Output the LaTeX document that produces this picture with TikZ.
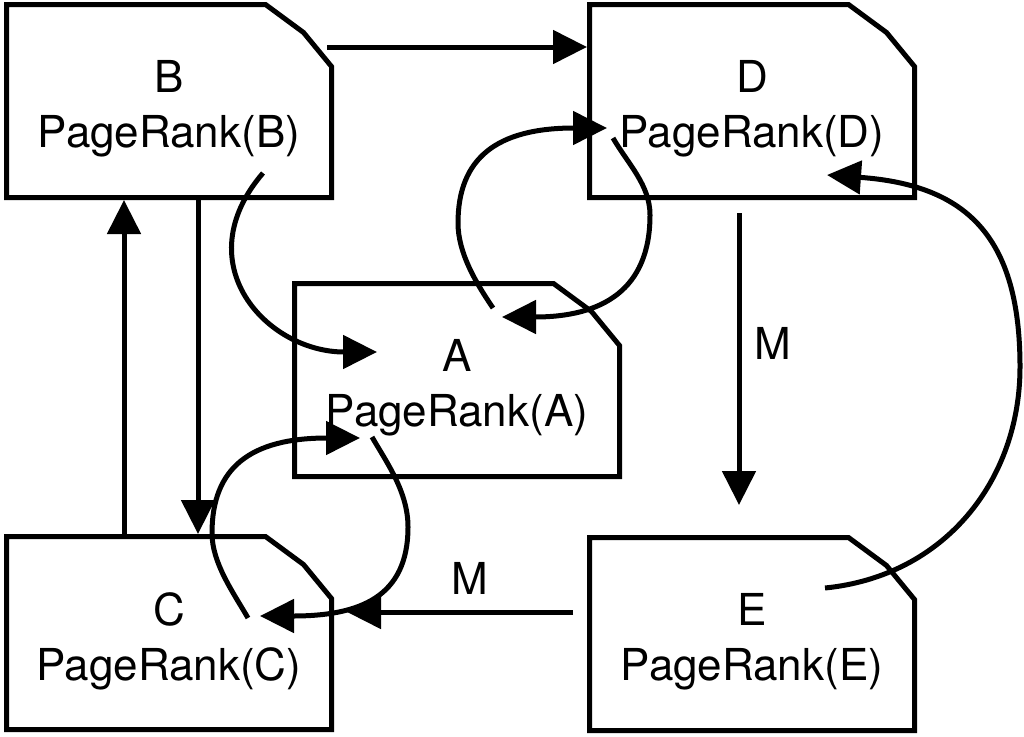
\documentclass[tikz,border=0pt]{standalone}
\usepackage{fontspec}
\setmainfont{TeX Gyre Heros}
\usetikzlibrary{arrows.meta,calc}
\begin{document}
\begin{tikzpicture}[x=1pt,y=-1pt,
  box/.style={minimum width=330pt,minimum height=198pt,inner sep=0pt,outer sep=0pt},
  boxline/.style={line width=5pt},
  txt/.style={font=\fontsize{44}{55}\selectfont,align=center,inner sep=0pt},
  conn/.style={line width=5pt,-{Triangle[length=34pt,width=33pt]}},
  mlab/.style={font=\fontsize{44}{55}\selectfont,inner sep=0pt}]
\useasboundingbox (0,0) rectangle (1024,736);
% boxes
\node[box] (B) at (169,101) {};
\node[box] (D) at (752,101) {};
\node[box] (A) at (457,380) {};
\node[box] (C) at (169,633) {};
\node[box] (E) at (752,634) {};
\foreach \n in {A,B,C,D,E}{
  \draw[boxline] ([shift={(2.5pt,2.5pt)}]\n.south west) -- ([shift={(2.5pt,-2.5pt)}]\n.north west)
    -- ([shift={(-68.5pt,-2.5pt)}]\n.north east) -- ([shift={(-30.5pt,-30.5pt)}]\n.north east)
    -- ([shift={(-2.5pt,-64.5pt)}]\n.north east) -- ([shift={(-2.5pt,2.5pt)}]\n.south east) -- cycle;
}
% texts
\node[txt] (Bt) at ([yshift=-8pt]B.center) {B\\PageRank(B)};
\node[txt] (Dt) at ([yshift=-8pt]D.center) {D\\PageRank(D)};
\node[txt] (At) at ([yshift=-8pt]A.center) {A\\PageRank(A)};
\node[txt] (Ct) at ([yshift=-8pt]C.center) {C\\PageRank(C)};
\node[txt] (Et) at ([yshift=-8pt]E.center) {E\\PageRank(E)};
% straight connectors
\coordinate (bd) at (327,47);
\draw[conn] (bd) -- (bd -| D.west);
\draw[conn] ([xshift=29pt]B.south) -- ([xshift=29pt]C.north);
\draw[conn] ([xshift=-45pt]C.north) -- ([xshift=-45pt]B.south);
\coordinate (de1) at (739,213);
\coordinate (de2) at (739,505);
\draw[conn] (de1) -- node[mlab,pos=0.447,anchor=west,xshift=13pt]{M} (de2);
\coordinate (ec1) at (573,612);
\coordinate (ec2) at (347,612);
\draw[conn] (ec1) -- node[mlab,pos=0.456,anchor=south,yshift=15pt]{M} (ec2);
% curved connectors
\coordinate (ba1) at (263,173);
\coordinate (ba2) at (377,352);
\draw[conn] (ba1) .. controls (185,264) and (267,352) .. (ba2);
\coordinate (ad1) at (493,308);
\coordinate (ad2) at (607,128);
\draw[conn] (ad1) .. controls (476,283) and (458,253) .. (458,223) .. controls (458,158) and (497,128) .. (ad2);
\coordinate (da1) at (613,138);
\coordinate (da2) at (502,317);
\draw[conn] (da1) .. controls (628,164) and (650,185) .. (650,215) .. controls (650,290) and (602,317) .. (da2);
\coordinate (ca1) at (248,618);
\coordinate (ca2) at (360,438);
\draw[conn] (ca1) .. controls (233,592) and (212,563) .. (212,533) .. controls (212,468) and (250,438) .. (ca2);
\coordinate (ac1) at (372,437);
\coordinate (ac2) at (260,616);
\draw[conn] (ac1) .. controls (387,463) and (408,492) .. (408,527) .. controls (408,597) and (360,616) .. (ac2);
\coordinate (ed1) at (825,588);
\coordinate (ed2) at (827,175);
\draw[conn] (ed1) .. controls (945,576) and (1020,480) .. (1020,367) .. controls (1020,237) and (967,185) .. (ed2);
\end{tikzpicture}
\end{document}
